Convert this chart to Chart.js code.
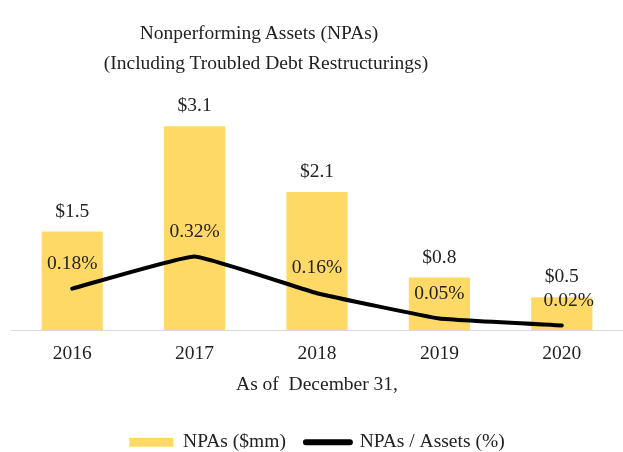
<!DOCTYPE html>
<html>
<head>
<meta charset="utf-8">
<script src="https://cdn.jsdelivr.net/npm/chart.js@4/dist/chart.umd.min.js"></script>
<style>
  html, body { margin: 0; padding: 0; background: #fff; }
  #wrap { position: relative; width: 623px; height: 452px; }
  .title { position: absolute; width: 440px; text-align: center; font-family: "Liberation Serif", "Times New Roman", serif; font-size: 19.5px; color: #222; line-height: 30px; white-space: nowrap; }
  #t1 { left: 39px; top: 18px; }
  #t2 { left: 46px; top: 48px; }
  canvas { position: absolute; left: 0; top: 0; }
</style>
</head>
<body>
<div id="wrap">
  <canvas id="c" width="623" height="452"></canvas>
  <div class="title" id="t1">Nonperforming Assets (NPAs)</div>
  <div class="title" id="t2">(Including Troubled Debt Restructurings)</div>
</div>
<script>
const categories = ["2016", "2017", "2018", "2019", "2020"];
const npaValues = [1.5, 3.1, 2.1, 0.8, 0.5];
const npaRatio = [0.18, 0.32, 0.16, 0.05, 0.02];
const seriesNames = ["NPAs ($mm)", "NPAs / Assets (%)"];
const xAxisTitle = "As of  December 31,";

const SERIF = "'Liberation Serif', 'Times New Roman', serif";
const TXT = "#222222";

const valueLabels = {
  id: "valueLabels",
  afterDatasetsDraw(chart) {
    const ctx = chart.ctx;
    ctx.save();
    ctx.font = "19.5px " + SERIF;
    ctx.fillStyle = TXT;
    ctx.textAlign = "center";
    ctx.textBaseline = "middle";
    const barMeta = chart.getDatasetMeta(0);
    barMeta.data.forEach((el, i) => {
      ctx.fillText("$" + npaValues[i].toFixed(1), el.x, el.y - 20);
    });
    const lineMeta = chart.getDatasetMeta(1);
    const dx = [0, 0, 0, 0, 7];
    lineMeta.data.forEach((el, i) => {
      ctx.fillText(npaRatio[i].toFixed(2) + "%", el.x + dx[i], el.y - 25);
    });
    ctx.restore();
  }
};

new Chart(document.getElementById("c"), {
  data: {
    labels: categories,
    datasets: [
      {
        type: "bar",
        label: seriesNames[0],
        data: npaValues,
        backgroundColor: "#FFD966",
        borderWidth: 0,
        categoryPercentage: 1,
        barPercentage: 0.5,
        yAxisID: "y",
        order: 1
      },
      {
        type: "line",
        label: seriesNames[1],
        data: npaRatio,
        borderColor: "#000000",
        backgroundColor: "#000000",
        borderWidth: 4,
        borderCapStyle: "round",
        borderJoinStyle: "round",
        pointRadius: 0,
        tension: 0.1,
        yAxisID: "y2",
        order: 0
      }
    ]
  },
  options: {
    responsive: false,
    animation: false,
    layout: { padding: { top: 100, left: 11, right: 0, bottom: -10 } },
    plugins: {
      title: { display: false },
      tooltip: { enabled: false },
      legend: {
        position: "bottom",
        labels: {
          font: { family: SERIF, size: 19.5 },
          color: TXT,
          usePointStyle: true,
          pointStyleWidth: 44,
          boxHeight: 9,
          padding: 20,
          sort: (a, b) => a.datasetIndex - b.datasetIndex,
          generateLabels(chart) {
            const items = Chart.defaults.plugins.legend.labels.generateLabels(chart);
            items.forEach(it => {
              if (it.datasetIndex === 0) {
                it.pointStyle = "rect";
                it.lineWidth = 0;
              } else {
                it.pointStyle = "line";
                it.lineWidth = 6;
                it.lineCap = "round";
                it.strokeStyle = "#000000";
              }
            });
            return items;
          }
        }
      }
    },
    scales: {
      x: {
        grid: { display: false, drawTicks: false },
        border: { display: true, color: "#d9d9d9", width: 1 },
        ticks: { font: { family: SERIF, size: 19.5, lineHeight: 1 }, color: TXT, padding: 14 },
        title: { display: true, text: xAxisTitle, font: { family: SERIF, size: 19.5, lineHeight: 1 }, color: TXT, padding: { top: -2, bottom: 17.5 } }
      },
      y: { display: false, min: 0, max: 3.5 },
      y2: { display: false, min: 0, max: 1.0, position: "right" }
    }
  },
  plugins: [valueLabels]
});
</script>
</body>
</html>
